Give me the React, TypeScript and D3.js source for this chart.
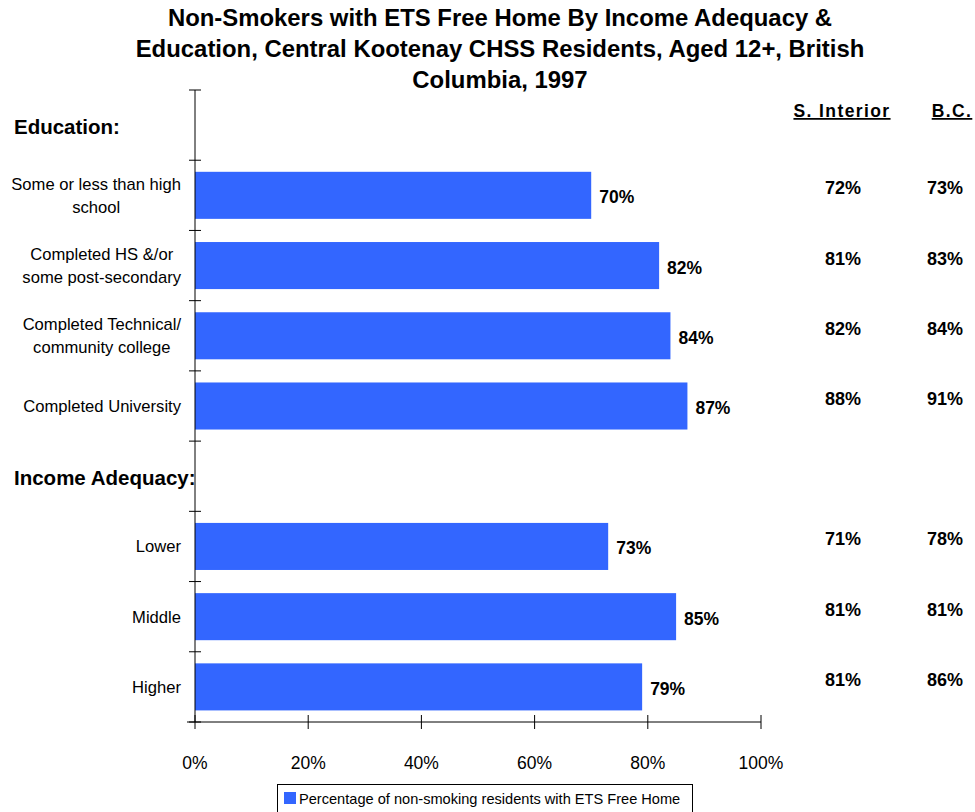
import React, { useEffect, useRef } from "react";
import * as d3 from "d3";

const rows = ["eduHeader", "edu1", "edu2", "edu3", "edu4", "incHeader", "inc1", "inc2", "inc3"];
const rowLabels: string[][] = [
  [],
  ["Some or less than high", "school"],
  ["Completed HS &/or", "some post-secondary"],
  ["Completed Technical/", "community college"],
  ["Completed University"],
  [],
  ["Lower"],
  ["Middle"],
  ["Higher"],
];
const values: (number | null)[] = [null, 70, 82, 84, 87, null, 73, 85, 79];
const sInterior: (string | null)[] = [null, "72%", "81%", "82%", "88%", null, "71%", "81%", "81%"];
const bcValues: (string | null)[] = [null, "73%", "83%", "84%", "91%", null, "78%", "81%", "86%"];
const sectionHeaders = [{ row: "eduHeader", text: "Education:" }, { row: "incHeader", text: "Income Adequacy:" }];
const xTicks = [0, 20, 40, 60, 80, 100];
const titleLines = [
  "Non-Smokers with ETS Free Home By Income Adequacy &",
  "Education, Central Kootenay CHSS Residents, Aged 12+, British",
  "Columbia, 1997",
];
const legendLabel = "Percentage of non-smoking residents with ETS Free Home";

const FONT = "'Liberation Sans', Arial, sans-serif";
const BLUE = "#3366FF";

export default function App() {
  const ref = useRef<SVGSVGElement | null>(null);
  useEffect(() => {
    const svg = d3.select(ref.current);
    svg.selectAll("*").remove();
    const x = d3.scaleLinear().domain([0, 100]).range([195, 761]);
    const y = d3.scaleBand().domain(rows).range([90, 722]).paddingInner(0.33).paddingOuter(0.165);
    const yb = d3.scaleBand().domain(rows).range([90, 722]);

    // title (fit to reference width)
    const title = svg.append("g");
    const tt = title.selectAll("text").data(titleLines).join("text")
      .attr("x", 500).attr("y", (_d, i) => 26 + i * 31)
      .attr("text-anchor", "middle").attr("font-family", FONT).attr("font-weight", "bold")
      .attr("font-size", 20).attr("fill", "#000").text(d => d);
    const w2 = (tt.nodes()[1] as SVGTextContentElement).getComputedTextLength();
    if (w2 > 0) tt.attr("font-size", 20 * 729 / w2).attr("letter-spacing", 0);

    // bars
    const data = rows.map((r, i) => ({ r, v: values[i], s: sInterior[i], b: bcValues[i], lab: rowLabels[i] }));
    svg.append("g").selectAll("rect").data(data.filter(d => d.v !== null)).join("rect")
      .attr("x", x(0)).attr("y", d => y(d.r)!).attr("width", d => x(d.v!) - x(0))
      .attr("height", y.bandwidth()).attr("fill", BLUE);

    // value labels
    svg.append("g").selectAll("text").data(data.filter(d => d.v !== null)).join("text")
      .attr("x", d => x(d.v!) + 8).attr("y", d => yb(d.r)! + yb.bandwidth() / 2 + 8)
      .attr("font-family", FONT).attr("font-weight", "bold").attr("font-size", 17.5)
      .text(d => d.v + "%");

    // side columns
    svg.append("text").attr("x", 842).attr("y", 117).attr("text-anchor", "middle")
      .attr("font-family", FONT).attr("font-weight", "bold").attr("font-size", 17.5)
      .attr("text-decoration", "underline").attr("letter-spacing", 1.4).text("S. Interior");
    svg.append("text").attr("x", 952).attr("y", 117).attr("text-anchor", "middle")
      .attr("font-family", FONT).attr("font-weight", "bold").attr("font-size", 17.5)
      .attr("text-decoration", "underline").attr("letter-spacing", 1.4).text("B.C.");
    svg.append("g").selectAll("text").data(data.filter(d => d.s !== null)).join("text")
      .attr("x", 843).attr("y", d => yb(d.r)! + yb.bandwidth() / 2 - 1)
      .attr("text-anchor", "middle").attr("font-family", FONT).attr("font-weight", "bold").attr("font-size", 18)
      .text(d => d.s!);
    svg.append("g").selectAll("text").data(data.filter(d => d.b !== null)).join("text")
      .attr("x", 945).attr("y", d => yb(d.r)! + yb.bandwidth() / 2 - 1)
      .attr("text-anchor", "middle").attr("font-family", FONT).attr("font-weight", "bold").attr("font-size", 18)
      .text(d => d.b!);

    // category labels
    const lab = svg.append("g");
    data.filter(d => d.lab.length > 0).forEach(d => {
      const cy = yb(d.r)! + yb.bandwidth() / 2;
      const n = d.lab.length;
      const t = lab.append("text").attr("font-family", FONT).attr("font-size", 16.6)
        .attr("text-anchor", n > 1 ? "middle" : "end");
      d.lab.forEach((line, i) => {
        t.append("tspan").attr("x", 181).attr("y", cy + 6 + (i - (n - 1) / 2) * 23).text(line);
      });
      if (n > 1) {
        const ws = (t.selectAll("tspan").nodes() as SVGTextContentElement[]).map(n => n.getComputedTextLength());
        const w = Math.max(...ws);
        t.selectAll("tspan").attr("x", 181 - w / 2);
      }
    });

    // section headers
    svg.append("g").selectAll("text").data(sectionHeaders).join("text")
      .attr("x", 14).attr("y", d => yb(d.row)! + yb.bandwidth() / 2 + 9)
      .attr("font-family", FONT).attr("font-weight", "bold").attr("font-size", 20.5).text(d => d.text);

    // y axis
    const ax = svg.append("g").attr("stroke", "#000").attr("stroke-width", 1);
    ax.append("line").attr("x1", 195).attr("x2", 195).attr("y1", 90).attr("y2", 722);
    const ticksY = rows.map(r => yb(r)!).concat([722]);
    ax.selectAll("line.ty").data(ticksY).join("line").attr("class", "ty")
      .attr("x1", 189).attr("x2", 201).attr("y1", d => d).attr("y2", d => d);
    // x axis
    ax.append("line").attr("x1", 187).attr("x2", x(100)).attr("y1", 722).attr("y2", 722);
    ax.selectAll("line.tx").data(xTicks).join("line").attr("class", "tx")
      .attr("x1", d => x(d)).attr("x2", d => x(d)).attr("y1", 715).attr("y2", 729);
    svg.append("g").selectAll("text").data(xTicks).join("text")
      .attr("x", d => x(d)).attr("y", 769).attr("text-anchor", "middle")
      .attr("font-family", FONT).attr("font-size", 17.5).text(d => d + "%");

    // legend
    const lg = svg.append("g");
    lg.append("rect").attr("x", 277.5).attr("y", 784.5).attr("width", 415).attr("height", 40)
      .attr("fill", "#fff").attr("stroke", "#000");
    lg.append("rect").attr("x", 284).attr("y", 792).attr("width", 12).attr("height", 12).attr("fill", BLUE);
    lg.append("text").attr("x", 299).attr("y", 804).attr("font-family", FONT).attr("font-size", 14.6).text(legendLabel);
  }, []);
  return (
    <svg ref={ref} width={975} height={812} style={{ position: "absolute", left: 0, top: 0, background: "#fff" }} />
  );
}
